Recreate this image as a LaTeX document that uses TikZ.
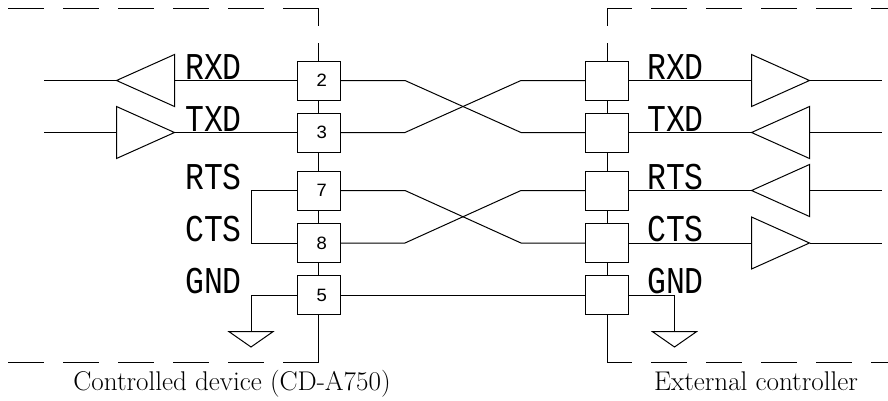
\documentclass[tikz,border=0pt]{standalone}
\usepackage{fontspec}
\setmonofont{Liberation Mono}
\usetikzlibrary{shapes.geometric}

\tikzset{
	wire/.style={line width=0.75pt},
	edgeline/.style={line width=0.75pt,dash pattern={on 27pt off 14.25pt}},
	pin/.style={draw,line width=0.75pt,fill=white,outer sep=0pt,minimum width=32.25pt,minimum height=29.25pt,inner sep=0pt,font=\ttfamily\fontsize{14}{15}\selectfont},
	driver/.style={draw,line width=0.75pt,outer sep=0pt,isosceles triangle,isosceles triangle stretches,minimum width=39pt,minimum height=43.5pt,inner sep=0pt,anchor=apex},
	ground/.style={draw,line width=0.75pt,outer sep=0pt,isosceles triangle,isosceles triangle stretches,shape border rotate=-90,minimum width=33pt,minimum height=11.5pt,inner sep=0pt,anchor=apex},
	signal/.style={anchor=base,inner sep=0pt,xscale=0.83,font=\ttfamily\fontsize{28.4}{30}\selectfont},
	caption/.style={anchor=base,inner sep=0pt,font=\fontsize{20.3}{22}\selectfont}
}

\begin{document}
\begin{tikzpicture}[x=0.75pt,y=0.75pt,yscale=-1,xscale=1]
	\useasboundingbox (0,0) rectangle (888,400);

	% Pins, controlled device
	\node [pin] (pinA2) at (318.5,80.5) {\hspace{5pt}2};
	\node [pin] (pinA3) at (318.5,132.5) {\hspace{5pt}3};
	\node [pin] (pinA7) at (318.5,190.5) {\hspace{5pt}7};
	\node [pin] (pinA8) at (318.5,243) {\hspace{5pt}8};
	\node [pin] (pinA5) at (318.5,295) {\hspace{5pt}5};
	% Pins, external controller
	\node [pin] (pinB2) at (607,80.5) {};
	\node [pin] (pinB3) at (607,132.5) {};
	\node [pin] (pinB7) at (607,190.5) {};
	\node [pin] (pinB8) at (607,243) {};
	\node [pin] (pinB5) at (607,295) {};

	% Drivers
	\node [driver,shape border rotate=180] (rxdA) at (116.5,80.5) {};
	\node [driver] (txdA) at (174.5,132.5) {};
	\node [driver] (rxdB) at (809.5,80.5) {};
	\node [driver,shape border rotate=180] (txdB) at (751.5,132.5) {};
	\node [driver,shape border rotate=180] (rtsB) at (751.5,190.5) {};
	\node [driver] (ctsB) at (809.5,243) {};

	% Grounds
	\node [ground] (gndA) at (251,347) {};
	\node [ground] (gndB) at (674.5,347) {};

	% Corners and free ends
	\coordinate (cornerA1) at (318.5,8.3);
	\coordinate (cornerA2) at (318.5,362.3);
	\coordinate (cornerB1) at (607,8.3);
	\coordinate (cornerB2) at (607,362.3);
	\coordinate (endA2) at (44,80.5);
	\coordinate (endA3) at (44,132.5);
	\coordinate (endB2) at (881.5,80.5);
	\coordinate (endB3) at (881.5,132.5);
	\coordinate (endB7) at (881.5,190.5);
	\coordinate (endB8) at (881.5,243);
	\coordinate (leftA1) at (8,8.3);
	\coordinate (leftA2) at (8,362.3);
	\coordinate (rightB1) at (888,8.3);
	\coordinate (rightB2) at (888,362.3);
	\coordinate (tapA) at (251,190.5);
	\coordinate (tapB) at (251,243);

	% Dashed device outlines
	\draw [edgeline] (cornerA1) -- (leftA1);
	\draw [edgeline] (cornerA2) -- (leftA2);
	\draw [edgeline,dash phase=8.25pt] (cornerB1) -- (rightB1);
	\draw [edgeline,dash phase=8.25pt] (cornerB2) -- (rightB2);
	\draw [wire,dash pattern={on 13.3pt off 12.75pt on 14pt off 0pt}] (cornerA1) -- (pinA2.north);
	\draw [wire,dash pattern={on 13.3pt off 12.75pt on 14pt off 0pt}] (cornerB1) -- (pinB2.north);

	% Pin columns
	\draw [wire] (pinA2) -- (pinA3);
	\draw [wire] (pinA3) -- (pinA7);
	\draw [wire] (pinA7) -- (pinA8);
	\draw [wire] (pinA8) -- (pinA5);
	\draw [wire] (pinA5) -- (cornerA2);
	\draw [wire] (pinB2) -- (pinB3);
	\draw [wire] (pinB3) -- (pinB7);
	\draw [wire] (pinB7) -- (pinB8);
	\draw [wire] (pinB8) -- (pinB5);
	\draw [wire] (pinB5) -- (cornerB2);

	% Crossed lines
	\draw [wire] (pinA2.east) -- ++(65,0) -- ([xshift=-48.4pt]pinB3.west) -- (pinB3.west);
	\draw [wire] (pinA3.east) -- ++(65,0) -- ([xshift=-48.4pt]pinB2.west) -- (pinB2.west);
	\draw [wire] (pinA7.east) -- ++(65,0) -- ([xshift=-48.4pt]pinB8.west) -- (pinB8.west);
	\draw [wire] (pinA8.east) -- ++(65,0) -- ([xshift=-48.4pt]pinB7.west) -- (pinB7.west);
	\draw [wire] (pinA5) -- (pinB5);

	% Driver lines
	\draw [wire] (endA2) -- (rxdA.apex);
	\draw [wire] (rxdA.east) -- (pinA2.west);
	\draw [wire] (endA3) -- (txdA.west);
	\draw [wire] (txdA.apex) -- (pinA3.west);
	\draw [wire] (pinB2.east) -- (rxdB.west);
	\draw [wire] (rxdB.apex) -- (endB2);
	\draw [wire] (pinB3.east) -- (txdB.apex);
	\draw [wire] (txdB.east) -- (endB3);
	\draw [wire] (pinB7.east) -- (rtsB.apex);
	\draw [wire] (rtsB.east) -- (endB7);
	\draw [wire] (pinB8.east) -- (ctsB.west);
	\draw [wire] (ctsB.apex) -- (endB8);

	% Loopback and grounds
	\draw [wire] (pinA7.west) -- (tapA) -- (tapB) -- (pinA8.west);
	\draw [wire] (pinA5.west) -| (gndA.north);
	\draw [wire] (pinB5.east) -| (gndB.north);

	% Text Node
	\node [signal] (labRxdA) at (213.5,79) {RXD};
	\node [signal] (labTxdA) at (213.5,131) {TXD};
	\node [signal] (labRtsA) at (213.5,189) {RTS};
	\node [signal] (labCtsA) at (213.5,241) {CTS};
	\node [signal] (labGndA) at (213.5,293) {GND};
	\node [signal] (labRxdB) at (675.5,79) {RXD};
	\node [signal] (labTxdB) at (675.5,131) {TXD};
	\node [signal] (labRtsB) at (675.5,189) {RTS};
	\node [signal] (labCtsB) at (675.5,241) {CTS};
	\node [signal] (labGndB) at (675.5,293) {GND};
	% Text Node
	\node [caption] (capA) at (232,390.5) {Controlled device (CD-A750)};
	\node [caption] (capB) at (756,390.5) {External controller};
\end{tikzpicture}
\end{document}
